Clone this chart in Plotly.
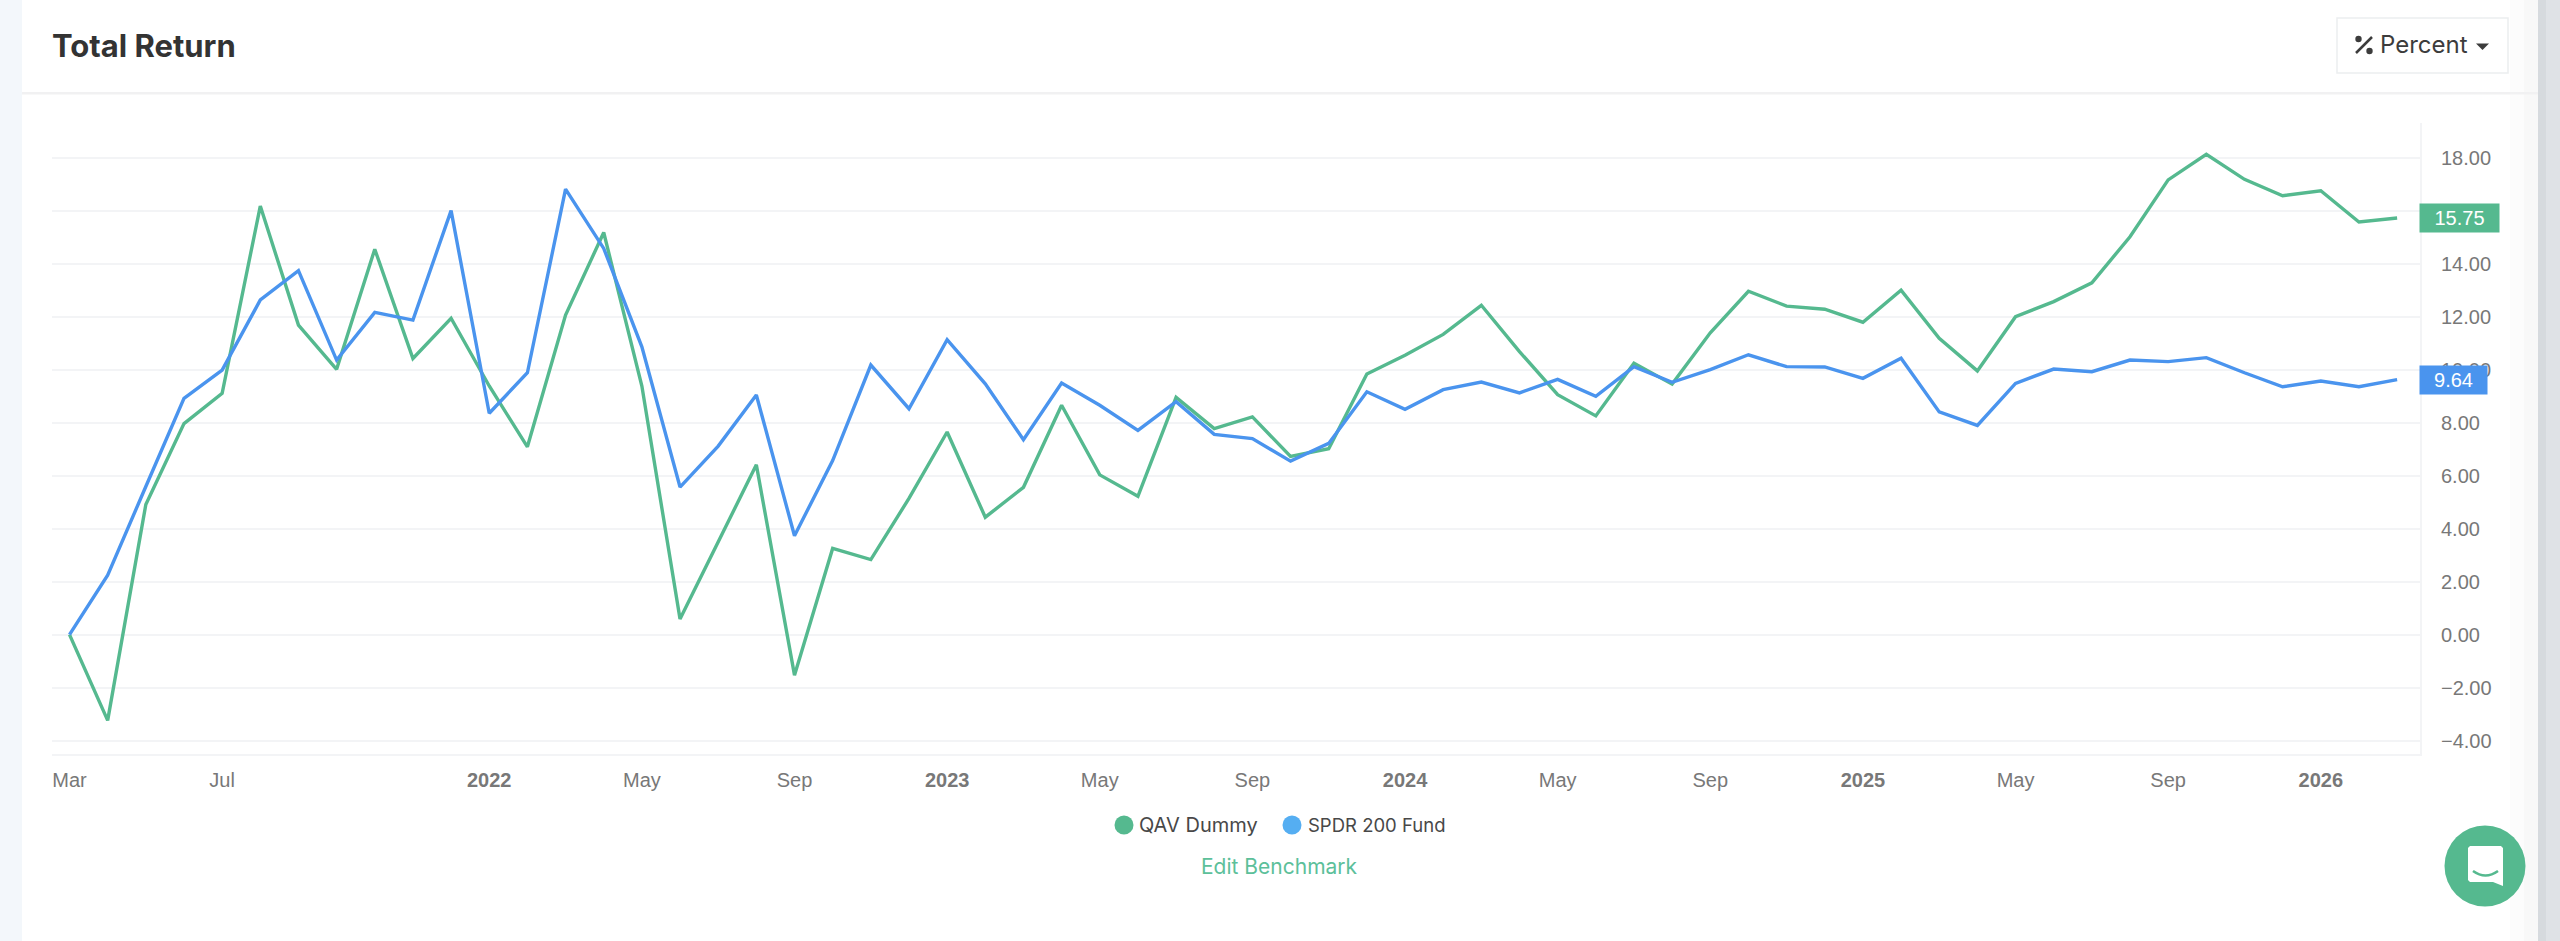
import plotly.graph_objects as go

# ---- data ----
point_index = list(range(62))
qav_dummy = [0.00, -3.24, 4.92, 7.98, 9.12, 16.20, 11.70, 10.03, 14.57, 10.44,
             11.96, 9.40, 7.10, 12.08, 15.20, 9.40, 0.59, 3.50, 6.42, -1.53,
             3.26, 2.84, 5.15, 7.66, 4.44, 5.57, 8.67, 6.04, 5.23, 8.97,
             7.79, 8.23, 6.74, 7.03, 9.85, 10.56, 11.35, 12.45, 10.70, 9.07,
             8.27, 10.26, 9.47, 11.41, 12.98, 12.42, 12.30, 11.81, 13.02, 11.20,
             9.97, 12.02, 12.59, 13.30, 15.04, 17.19, 18.16, 17.21, 16.59, 16.78,
             15.60, 15.75]
spdr_200 = [0.00, 2.25, 5.60, 8.93, 10.00, 12.65, 13.76, 10.38, 12.18, 11.89,
            16.03, 8.37, 9.90, 16.84, 14.60, 10.88, 5.58, 7.13, 9.06, 3.74,
            6.58, 10.19, 8.54, 11.15, 9.48, 7.37, 9.51, 8.67, 7.72, 8.81,
            7.57, 7.41, 6.56, 7.23, 9.18, 8.52, 9.26, 9.55, 9.14, 9.65,
            9.01, 10.13, 9.54, 10.02, 10.58, 10.13, 10.12, 9.69, 10.45, 8.42,
            7.91, 9.50, 10.04, 9.94, 10.38, 10.32, 10.47, 9.90, 9.37, 9.59,
            9.37, 9.64]
x_tick_index = [0, 4, 11, 15, 19, 23, 27, 31, 35, 39, 43, 47, 51, 55, 59]
x_tick_labels = ["Mar", "Jul", "<b>2022</b>", "May", "Sep", "<b>2023</b>", "May", "Sep",
                 "<b>2024</b>", "May", "Sep", "<b>2025</b>", "May", "Sep", "<b>2026</b>"]
y_ticks = [-4, -2, 0, 2, 4, 6, 8, 10, 12, 14, 16, 18]
series_names = ["QAV Dummy", "SPDR 200 Fund"]

# ---- styling ----
W, H = 2560, 941
L, R, T, B = 52, 2420, 123, 754
GREEN, BLUE, DOT_BLUE = "#55b98f", "#4a94ee", "#55aef2"
GRID = "#f3f4f6"
FONT = "Inter, 'Open Sans', sans-serif"
AXIS_FONT = "'Liberation Sans', Arial, sans-serif"

def px(x):
    return (x - L) / (R - L)

def py(y):
    return (B - y) / (B - T)

def rect(x0, y0, x1, y1, fill, line=None, layer="below", lw=0):
    return dict(type="rect", xref="paper", yref="paper", x0=px(x0), x1=px(x1), y0=py(y1), y1=py(y0),
                fillcolor=fill, line=dict(color=line or "rgba(0,0,0,0)", width=lw), layer=layer)

def circle(cx, cy, r, fill, layer="above"):
    return dict(type="circle", xref="paper", yref="paper", x0=px(cx - r), x1=px(cx + r),
                y0=py(cy + r), y1=py(cy - r), fillcolor=fill, line=dict(width=0), layer=layer)

def path(points, fill=None, line=None, lw=0, close=True, layer="above", curve=False):
    cmds = []
    for i, p in enumerate(points):
        cmds.append(("M" if i == 0 else ("Q" if curve and i == 1 else ("" if curve else "L")))
                    + f"{px(p[0]):.6f},{py(p[1]):.6f}")
    d = " ".join(cmds) + (" Z" if close else "")
    return dict(type="path", xref="paper", yref="paper", path=d, fillcolor=fill or "rgba(0,0,0,0)",
                line=dict(color=line or "rgba(0,0,0,0)", width=lw), layer=layer)

def text(x, y, s, size, color, anchor="left", font=FONT):
    return dict(xref="paper", yref="paper", x=px(x), y=py(y), text=s, showarrow=False, xanchor=anchor,
                yanchor="middle", font=dict(size=size, color=color, family=font), borderpad=0, borderwidth=0)

shapes = [
    rect(0, 0, 22, H, "#f3f7fb"),
    rect(2538, 0, W, H, "#dfe2e6"),
    rect(2538, 0, 2546, H, "#d6dade"),
    rect(2510, 0, 2524, H, "#fcfcfc"),
    rect(2524, 0, 2538, H, "#f8f8f8"),
    rect(22, 92, 2538, 94.5, "#f1f1f2"),
    # Percent button
    rect(2337, 18, 2508, 73, "#ffffff", "#eceef0", "above", 1.5),
    circle(2358.5, 39, 3.2, "#3c3c3c"),
    circle(2369.5, 51, 3.2, "#3c3c3c"),
    path([(2356, 53), (2372, 37)], line="#3c3c3c", lw=2.5, close=False),
    path([(2476, 43.5), (2489, 43.5), (2482.5, 50)], fill="#3c3c3c"),
    # legend dots
    circle(1124, 825, 9.5, GREEN),
    circle(1292, 825, 9.5, DOT_BLUE),
    # chat button
    circle(2485, 866, 40.5, "#55b98f"),
    path([(2470, 846), (2501, 846), (2503, 848), (2503, 886), (2493, 882), (2470, 882), (2468, 880), (2468, 848)],
         fill="#ffffff"),
    path([(2473, 871), (2485.5, 880), (2498, 871)], line="#55b98f", lw=2.5, close=False, curve=True),
]

annotations = [
    text(52, 46, "<b>Total Return</b>", 31, "#333333"),
    text(2380, 45, "Percent", 24, "#3c3c3c"),
    text(1139, 825, series_names[0], 20, "#484848"),
    text(1308, 825, series_names[1], 18.5, "#484848"),
    text(1280, 866, "Edit Benchmark", 21, "#5cc09a", "center"),
    dict(xref="paper", yref="y", x=px(2419), y=qav_dummy[-1], text=f"{qav_dummy[-1]:.2f}", showarrow=False,
         xanchor="left", yanchor="middle", width=79, height=28, align="center", bgcolor=GREEN, borderpad=0,
         font=dict(size=20, color="#ffffff", family=AXIS_FONT)),
    dict(xref="paper", yref="y", x=px(2419), y=spdr_200[-1], text=f"{spdr_200[-1]:.2f}", showarrow=False,
         xanchor="left", yanchor="middle", width=67, height=28, align="center", bgcolor=BLUE, borderpad=0,
         font=dict(size=20, color="#ffffff", family=AXIS_FONT)),
]

fig = go.Figure()
fig.add_trace(go.Scatter(x=point_index, y=qav_dummy, mode="lines", name=series_names[0],
                         line=dict(color=GREEN, width=3.4)))
fig.add_trace(go.Scatter(x=point_index, y=spdr_200, mode="lines", name=series_names[1],
                         line=dict(color=BLUE, width=3.4)))

fig.update_layout(
    width=W, height=H, autosize=False,
    margin=dict(l=L, r=W - R, t=T, b=H - B, pad=0),
    paper_bgcolor="#ffffff", plot_bgcolor="#ffffff",
    showlegend=False,
    shapes=shapes, annotations=annotations,
    font=dict(family=AXIS_FONT, size=20, color="#787878"),
    xaxis=dict(range=[-0.459, 61.6], tickmode="array", tickvals=x_tick_index, ticktext=x_tick_labels,
               showgrid=False, zeroline=False, showline=True, linecolor=GRID, linewidth=2,
               ticks="outside", ticklen=7, tickcolor="rgba(0,0,0,0)", tickangle=0,
               tickfont=dict(size=20, color="#787878", family=AXIS_FONT)),
    yaxis=dict(range=[-4.51, 19.34], side="right", tickmode="array", tickvals=y_ticks, tickformat=".2f",
               showgrid=True, gridcolor=GRID, gridwidth=2, zeroline=False, showline=True, linecolor=GRID,
               linewidth=2, ticks="outside", ticklen=15, tickcolor="rgba(0,0,0,0)",
               tickfont=dict(size=20, color="#787878", family=AXIS_FONT)),
)

fig.write_html("out.html", config={"displayModeBar": False}, post_script="document.body.style.margin='0';")
